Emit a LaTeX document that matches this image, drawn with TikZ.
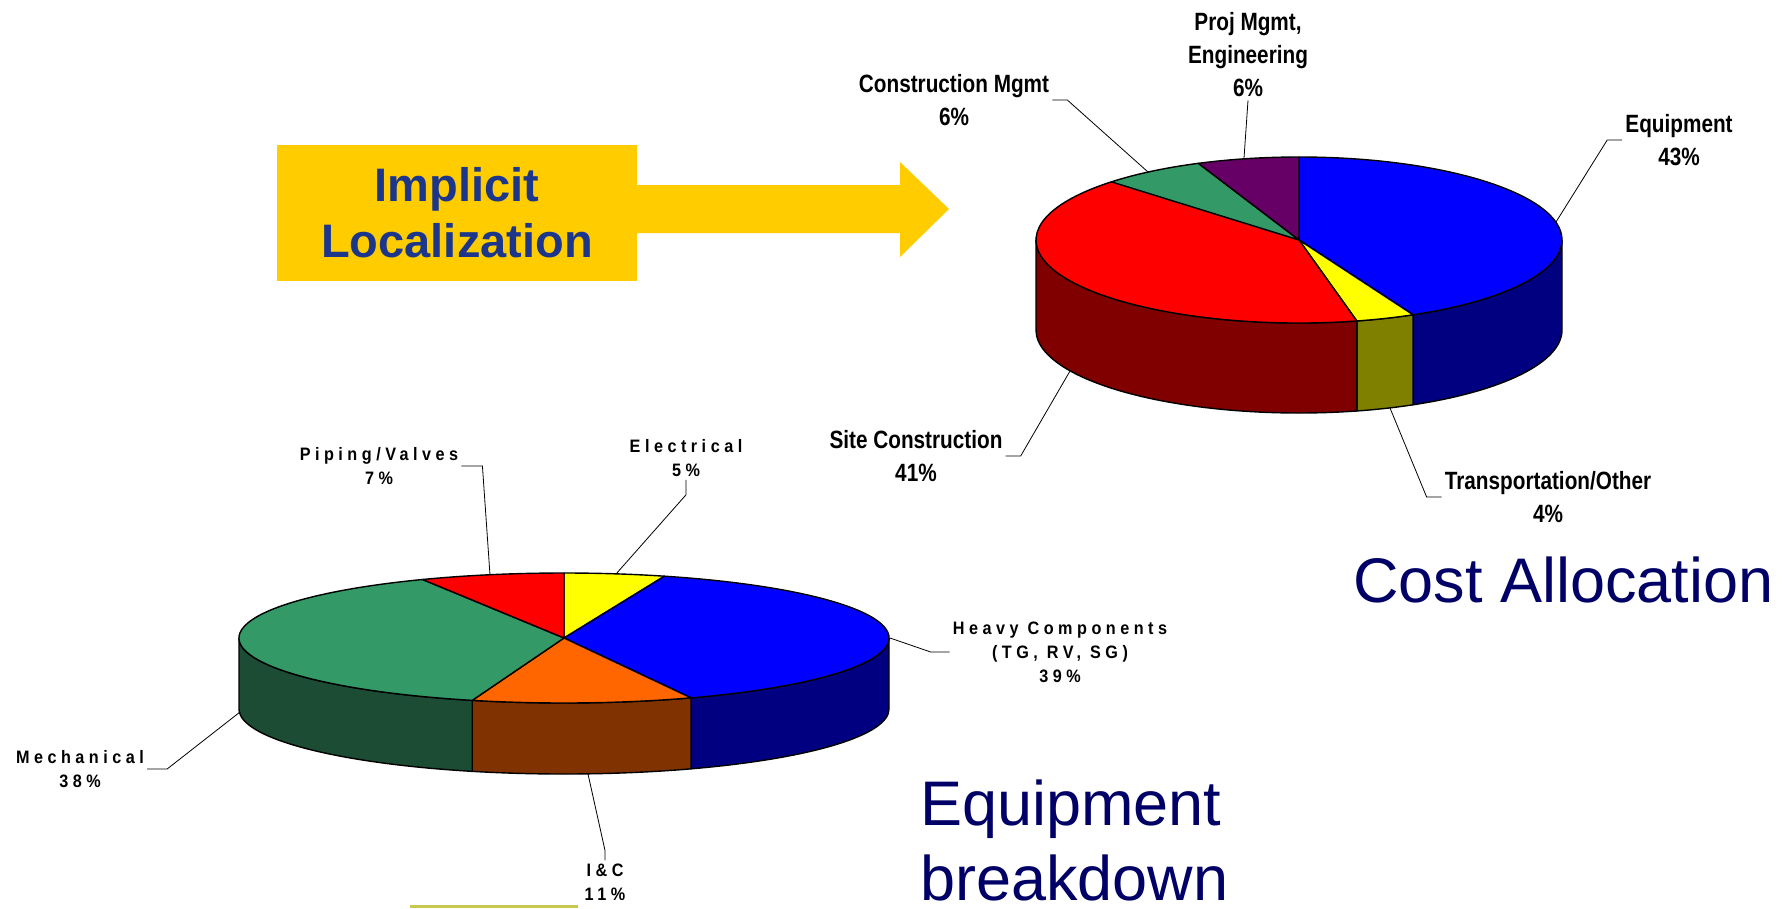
\documentclass[tikz,border=0pt]{standalone}
\usepackage{fontspec}
\setmainfont{Liberation Sans}
\newfontfamily\toplabelfont[FakeStretch=0.83]{Liberation Sans}
\newfontfamily\botlabelfont[FakeStretch=0.9,LetterSpace=25]{Liberation Sans}
\usetikzlibrary{calc}
\definecolor{boxyellow}{RGB}{255,204,0}
\definecolor{boxtext}{RGB}{28,54,140}
\definecolor{titlenavy}{RGB}{0,0,102}
\definecolor{pieblue}{RGB}{0,0,255}
\definecolor{pienavy}{RGB}{0,0,128}
\definecolor{pieyellow}{RGB}{255,255,0}
\definecolor{pieolive}{RGB}{128,128,0}
\definecolor{piered}{RGB}{255,0,0}
\definecolor{piedarkred}{RGB}{128,0,0}
\definecolor{piegreen}{RGB}{51,153,102}
\definecolor{piedarkgreen}{RGB}{28,76,52}
\definecolor{piepurple}{RGB}{102,0,102}
\definecolor{pieorange}{RGB}{255,102,0}
\definecolor{piebrown}{RGB}{128,51,0}
\definecolor{stripolive}{RGB}{200,200,80}
\tikzstyle{slice} = [draw=black, line width=1.4pt, line join=round]
\tikzstyle{toplabel} = [font=\toplabelfont\bfseries\fontsize{25}{33}\selectfont, align=center, inner sep=3pt]
\tikzstyle{botlabel} = [font=\botlabelfont\bfseries\fontsize{18}{24}\selectfont, align=center, inner sep=3pt]
\tikzstyle{leader} = [draw=black, line width=0.8pt]
\tikzstyle{title} = [font=\fontsize{63}{75}\selectfont, text=titlenavy, inner sep=0pt]
\tikzstyle{banner} = [rectangle, minimum width=360pt, minimum height=136pt, fill=boxyellow, text=boxtext, font=\bfseries\fontsize{47}{56}\selectfont, align=center]

\begin{document}
\begin{tikzpicture}[x=1pt, y=-1pt]
	\fill[white] (0,0) rectangle (1784,908);
	\useasboundingbox (0,0) rectangle (1784,908);

	% banner and arrow
	\node (implicit) [banner] at (457,213) {Implicit\\Localization};
	\coordinate (arrowtip) at (949,209);
	\fill[boxyellow] ([yshift=28pt]implicit.east) -- (900,185) -- (900,162) -- (arrowtip) -- (900,257) -- (900,233) -- ([yshift=-20pt]implicit.east) -- cycle;

	% cost allocation pie
	\begin{scope}[shift={(1299,240)}]
		\filldraw[slice, fill=pienavy] (0:263 and 83) arc[start angle=0, end angle=64.3, x radius=263, y radius=83] -- ++(0,90) arc[start angle=64.3, end angle=0, x radius=263, y radius=83] -- cycle;
		\filldraw[slice, fill=pieolive] (64.3:263 and 83) arc[start angle=64.3, end angle=77.3, x radius=263, y radius=83] -- ++(0,90) arc[start angle=77.3, end angle=64.3, x radius=263, y radius=83] -- cycle;
		\filldraw[slice, fill=piedarkred] (77.3:263 and 83) arc[start angle=77.3, end angle=180, x radius=263, y radius=83] -- ++(0,90) arc[start angle=180, end angle=77.3, x radius=263, y radius=83] -- cycle;
		\filldraw[slice, fill=pieblue] (0,0) -- (-90:263 and 83) arc[start angle=-90, end angle=64.3, x radius=263, y radius=83] -- cycle;
		\filldraw[slice, fill=pieyellow] (0,0) -- (64.3:263 and 83) arc[start angle=64.3, end angle=77.3, x radius=263, y radius=83] -- cycle;
		\filldraw[slice, fill=piered] (0,0) -- (77.3:263 and 83) arc[start angle=77.3, end angle=224.5, x radius=263, y radius=83] -- cycle;
		\filldraw[slice, fill=piegreen] (0,0) -- (224.5:263 and 83) arc[start angle=224.5, end angle=247.5, x radius=263, y radius=83] -- cycle;
		\filldraw[slice, fill=piepurple] (0,0) -- (247.5:263 and 83) arc[start angle=247.5, end angle=270, x radius=263, y radius=83] -- cycle;
	\end{scope}

	\node (projmgmt) [toplabel] at (1248,55) {Proj Mgmt,\\Engineering\\6\%};
	\node (constmgmt) [toplabel] at (954,100) {Construction Mgmt\\6\%};
	\node (equipment) [toplabel] at (1679,140) {Equipment\\43\%};
	\node (siteconst) [toplabel] at (916,456) {Site Construction\\41\%};
	\node (transport) [toplabel] at (1548,497) {Transportation/Other\\4\%};

	\coordinate (projmgmt-pt) at (1244,158);
	\coordinate (constmgmt-pt) at (1148,172);
	\coordinate (equipment-pt) at (1556,222);
	\coordinate (siteconst-pt) at (1070,371);
	\coordinate (transport-pt) at (1390,408);

	\draw[leader] (projmgmt-pt) -- (projmgmt.south);
	\draw[leader] (constmgmt-pt) -- ([xshift=15pt]constmgmt.east) -- (constmgmt.east);
	\draw[leader] (equipment-pt) -- ([xshift=-15pt]equipment.west) -- (equipment.west);
	\draw[leader] (siteconst-pt) -- ([xshift=15pt]siteconst.east) -- (siteconst.east);
	\draw[leader] (transport-pt) -- ([xshift=-15pt]transport.west) -- (transport.west);

	% equipment breakdown pie
	\begin{scope}[shift={(564,638)}]
		\filldraw[slice, fill=pienavy] (0:325 and 65) arc[start angle=0, end angle=67, x radius=325, y radius=65] -- ++(0,71) arc[start angle=67, end angle=0, x radius=325, y radius=65] -- cycle;
		\filldraw[slice, fill=piebrown] (67:325 and 65) arc[start angle=67, end angle=106.4, x radius=325, y radius=65] -- ++(0,71) arc[start angle=106.4, end angle=67, x radius=325, y radius=65] -- cycle;
		\filldraw[slice, fill=piedarkgreen] (106.4:325 and 65) arc[start angle=106.4, end angle=180, x radius=325, y radius=65] -- ++(0,71) arc[start angle=180, end angle=106.4, x radius=325, y radius=65] -- cycle;
		\filldraw[slice, fill=pieyellow] (0,0) -- (-90:325 and 65) arc[start angle=-90, end angle=-72, x radius=325, y radius=65] -- cycle;
		\filldraw[slice, fill=pieblue] (0,0) -- (-72:325 and 65) arc[start angle=-72, end angle=67, x radius=325, y radius=65] -- cycle;
		\filldraw[slice, fill=pieorange] (0,0) -- (67:325 and 65) arc[start angle=67, end angle=106.4, x radius=325, y radius=65] -- cycle;
		\filldraw[slice, fill=piegreen] (0,0) -- (106.4:325 and 65) arc[start angle=106.4, end angle=244.2, x radius=325, y radius=65] -- cycle;
		\filldraw[slice, fill=piered] (0,0) -- (244.2:325 and 65) arc[start angle=244.2, end angle=270, x radius=325, y radius=65] -- cycle;
	\end{scope}

	\node (piping) [botlabel] at (379,466) {Piping/Valves\\7\%};
	\node (electrical) [botlabel] at (686,458) {Electrical\\5\%};
	\node (heavy) [botlabel] at (1060,652) {Heavy Components\\(TG, RV, SG)\\39\%};
	\node (mechanical) [botlabel] at (80,769) {Mechanical\\38\%};
	\node (iandc) [botlabel] at (605,882) {I\&C\\11\%};

	\coordinate (piping-pt) at (490,575);
	\coordinate (electrical-pt) at (616,574);
	\coordinate (heavy-pt) at (890,638);
	\coordinate (mechanical-pt) at (240,712);
	\coordinate (iandc-pt) at (588,774);

	\draw[leader] (piping-pt) -- ([xshift=21pt]piping.east) -- (piping.east);
	\draw[leader] (electrical-pt) -- ([yshift=-15pt]electrical.south) -- (electrical.south);
	\draw[leader] (heavy-pt) -- ([xshift=-19pt]heavy.west) -- (heavy.west);
	\draw[leader] (mechanical-pt) -- ([xshift=20pt]mechanical.east) -- (mechanical.east);
	\draw[leader] (iandc-pt) -- ([yshift=10pt]iandc.north) -- (iandc.north);

	% titles
	\node (costtitle) [title, anchor=base west] at (1353,602) {Cost Allocation};
	\node (eqtitle) [title, anchor=base west] at (920,825) {Equipment};
	\node (eqtitle2) [title, anchor=base west] at (920,900) {breakdown};

	\fill[stripolive] (410,905) rectangle (578,908);
\end{tikzpicture}
\end{document}
